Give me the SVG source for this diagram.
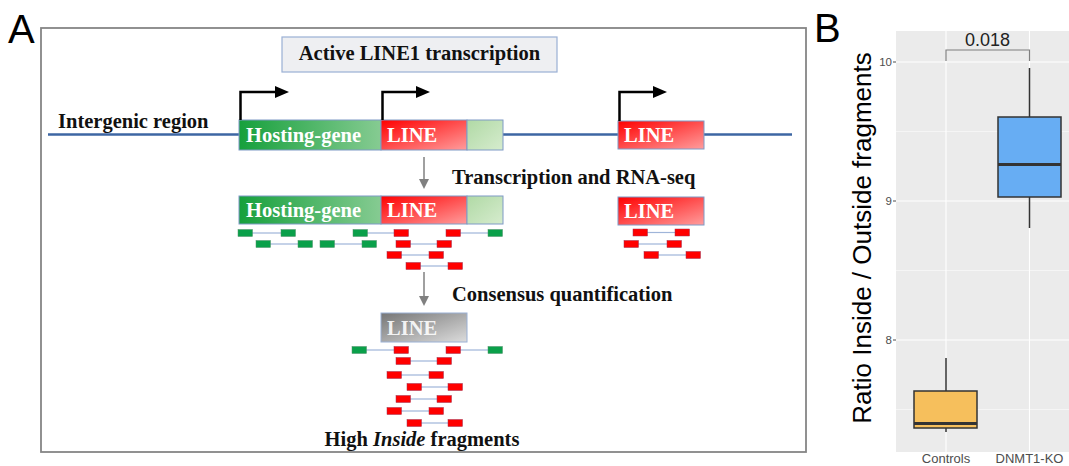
<svg xmlns="http://www.w3.org/2000/svg" width="1069" height="466" viewBox="0 0 1069 466">
  <style>
    .serif { font-family: "Liberation Serif", "Times New Roman", serif; font-weight: bold; }
    .title { font-size: 20.5px; fill: #111; }
    .boxlabel { font-size: 20.5px; fill: #ffffff; }
    .panel { font-family: "Liberation Sans", Arial, sans-serif; font-size: 40px; fill: #000; }
    .seg { stroke: #7f9ac6; stroke-width: 1; }
    .frag-g { fill: #0aa04a; stroke: #4f8f6a; stroke-width: 0.5; }
    .frag-r { fill: #ff0000; stroke: #a03050; stroke-width: 0.5; }
    .link { stroke: #9fb5d9; stroke-width: 1.2; }
    .tss { fill: none; stroke: #000; stroke-width: 2.5; }
    .down { stroke: #808080; stroke-width: 1.5; }
    .axis { font-family: "Liberation Sans", Arial, sans-serif; fill: #4d4d4d; }
    .grid-major { stroke: #ffffff; stroke-width: 1.1; }
    .grid-minor { stroke: #ffffff; stroke-width: 0.5; }
    .box { stroke: #333333; stroke-width: 1.5; }
    .whisk { stroke: #333333; stroke-width: 1.5; }
  </style>
  <defs>
    <linearGradient id="gHost" x1="0" y1="0" x2="1" y2="0">
      <stop offset="0" stop-color="#16a03c"/>
      <stop offset="1" stop-color="#86cb92"/>
    </linearGradient>
    <linearGradient id="gLine" x1="0" y1="0" x2="1" y2="1">
      <stop offset="0" stop-color="#ff0000"/>
      <stop offset="1" stop-color="#ff9d9d"/>
    </linearGradient>
    <linearGradient id="gTail" x1="0" y1="0" x2="1" y2="1">
      <stop offset="0" stop-color="#b0d9a5"/>
      <stop offset="1" stop-color="#d6ecce"/>
    </linearGradient>
    <linearGradient id="gGray" x1="0" y1="0" x2="1" y2="1">
      <stop offset="0" stop-color="#767676"/>
      <stop offset="1" stop-color="#dcdcdc"/>
    </linearGradient>
    <marker id="tipBlack" markerWidth="14" markerHeight="12" refX="1" refY="6" orient="auto" markerUnits="userSpaceOnUse">
      <path d="M0,0 L14,6 L0,12 Z" fill="#000"/>
    </marker>
    <marker id="tipGray" markerWidth="10" markerHeight="10" refX="1" refY="5" orient="auto" markerUnits="userSpaceOnUse">
      <path d="M0,0 L10,5 L0,10 Z" fill="#808080"/>
    </marker>
  </defs>

  <rect width="1069" height="466" fill="#ffffff"/>

  <!-- Panel A -->
  <text class="panel" x="8" y="43">A</text>
  <rect id="panelA-frame" x="41" y="28" width="765" height="424" fill="#ffffff" stroke="#858585" stroke-width="1.8"/>

  <g id="header">
    <rect x="282" y="37" width="275" height="35" fill="#eeeff2" stroke="#9ab0d4" stroke-width="1.2"/>
    <text class="serif title" x="419.5" y="60" text-anchor="middle">Active LINE1 transcription</text>
  </g>

  <g id="intergenic">
    <line x1="48" y1="134.5" x2="792" y2="134.5" stroke="#3d66a3" stroke-width="2.5"/>
    <text class="serif title" x="58" y="128">Intergenic region</text>
  </g>

  <!-- Genomic locus -->
  <g id="hosting-gene">
    <rect class="seg" x="239" y="120" width="142" height="30" fill="url(#gHost)"/>
    <text class="serif boxlabel" x="246" y="142">Hosting-gene</text>
  </g>
  <g id="line-intronic">
    <rect class="seg" x="381" y="120" width="86" height="30" fill="url(#gLine)"/>
    <text class="serif boxlabel" x="387" y="142">LINE</text>
  </g>
  <g id="hosting-gene-tail">
    <rect class="seg" x="467" y="120" width="36" height="30" fill="url(#gTail)"/>
  </g>
  <g id="line-intergenic">
    <rect class="seg" x="618" y="121" width="86" height="28" fill="url(#gLine)"/>
    <text class="serif boxlabel" x="624" y="142">LINE</text>
  </g>

  <g id="connectors">
    <!-- transcription start sites -->
    <path class="tss" d="M240.5,120 V92 H276" marker-end="url(#tipBlack)"/>
    <path class="tss" d="M382.5,120 V92 H417" marker-end="url(#tipBlack)"/>
    <path class="tss" d="M619.5,121 V92 H654" marker-end="url(#tipBlack)"/>
    <!-- workflow steps -->
    <line class="down" x1="424" y1="157" x2="424" y2="180" marker-end="url(#tipGray)"/>
    <line class="down" x1="424" y1="272" x2="424" y2="297" marker-end="url(#tipGray)"/>
  </g>

  <g id="step-rnaseq-label">
    <text class="serif title" x="452" y="184">Transcription and RNA-seq</text>
  </g>

  <!-- Transcripts and RNA-seq reads -->
  <g id="transcript-host">
    <rect class="seg" x="239" y="196" width="142" height="28" fill="url(#gHost)"/>
    <text class="serif boxlabel" x="246" y="217">Hosting-gene</text>
    <rect class="seg" x="381" y="196" width="86" height="28" fill="url(#gLine)"/>
    <text class="serif boxlabel" x="387" y="217">LINE</text>
    <rect class="seg" x="467" y="196" width="36" height="28" fill="url(#gTail)"/>
  </g>
  <g id="transcript-line">
    <rect class="seg" x="618" y="197" width="86" height="28" fill="url(#gLine)"/>
    <text class="serif boxlabel" x="624" y="218">LINE</text>
  </g>

  <g id="reads-host">
    <line class="link" x1="252" y1="233" x2="281" y2="233"/>
    <rect class="frag-g" x="238" y="229.5" width="14.5" height="7"/>
    <rect class="frag-g" x="281" y="229.5" width="14.5" height="7"/>
    <line class="link" x1="367" y1="233" x2="394" y2="233"/>
    <rect class="frag-g" x="353" y="229.5" width="14.5" height="7"/>
    <rect class="frag-r" x="394" y="229.5" width="14.5" height="7"/>
    <line class="link" x1="460" y1="233" x2="488" y2="233"/>
    <rect class="frag-r" x="446" y="229.5" width="14.5" height="7"/>
    <rect class="frag-g" x="488" y="229.5" width="14.5" height="7"/>

    <line class="link" x1="270" y1="244" x2="298" y2="244"/>
    <rect class="frag-g" x="256" y="240.5" width="14.5" height="7"/>
    <rect class="frag-g" x="298" y="240.5" width="14.5" height="7"/>
    <line class="link" x1="334" y1="244" x2="362" y2="244"/>
    <rect class="frag-g" x="320" y="240.5" width="14.5" height="7"/>
    <rect class="frag-g" x="362" y="240.5" width="14.5" height="7"/>
    <line class="link" x1="410" y1="244" x2="437" y2="244"/>
    <rect class="frag-r" x="396" y="240.5" width="14.5" height="7"/>
    <rect class="frag-r" x="437" y="240.5" width="14.5" height="7"/>

    <line class="link" x1="401" y1="255" x2="429" y2="255"/>
    <rect class="frag-r" x="387" y="251.5" width="14.5" height="7"/>
    <rect class="frag-r" x="429" y="251.5" width="14.5" height="7"/>

    <line class="link" x1="420" y1="266" x2="448" y2="266"/>
    <rect class="frag-r" x="406" y="262.5" width="14.5" height="7"/>
    <rect class="frag-r" x="448" y="262.5" width="14.5" height="7"/>
  </g>

  <g id="reads-line">
    <line class="link" x1="647" y1="232.5" x2="675" y2="232.5"/>
    <rect class="frag-r" x="633" y="229" width="14.5" height="7"/>
    <rect class="frag-r" x="675" y="229" width="14.5" height="7"/>
    <line class="link" x1="638" y1="244" x2="667" y2="244"/>
    <rect class="frag-r" x="624" y="240.5" width="14.5" height="7"/>
    <rect class="frag-r" x="667" y="240.5" width="14.5" height="7"/>
    <line class="link" x1="658" y1="255" x2="686" y2="255"/>
    <rect class="frag-r" x="644" y="251.5" width="14.5" height="7"/>
    <rect class="frag-r" x="686" y="251.5" width="14.5" height="7"/>
  </g>

  <g id="step-consensus-label">
    <text class="serif title" x="452" y="301">Consensus quantification</text>
  </g>

  <!-- Consensus element with mapped reads -->
  <g id="consensus-line">
    <rect x="381" y="313" width="86" height="29" fill="url(#gGray)" stroke="#9ab0d4" stroke-width="1"/>
    <text class="serif boxlabel" x="387" y="335" fill-opacity="0.9">LINE</text>
  </g>

  <g id="reads-consensus">
    <line class="link" x1="366" y1="350" x2="394" y2="350"/>
    <rect class="frag-g" x="352" y="346.5" width="14.5" height="7"/>
    <rect class="frag-r" x="394" y="346.5" width="14.5" height="7"/>
    <line class="link" x1="460" y1="350" x2="488" y2="350"/>
    <rect class="frag-r" x="446" y="346.5" width="14.5" height="7"/>
    <rect class="frag-g" x="488" y="346.5" width="14.5" height="7"/>

    <line class="link" x1="410" y1="361" x2="437" y2="361"/>
    <rect class="frag-r" x="396" y="357.5" width="14.5" height="7"/>
    <rect class="frag-r" x="437" y="357.5" width="14.5" height="7"/>

    <line class="link" x1="401" y1="375" x2="429" y2="375"/>
    <rect class="frag-r" x="387" y="371.5" width="14.5" height="7"/>
    <rect class="frag-r" x="429" y="371.5" width="14.5" height="7"/>

    <line class="link" x1="421" y1="387" x2="448" y2="387"/>
    <rect class="frag-r" x="407" y="383.5" width="14.5" height="7"/>
    <rect class="frag-r" x="448" y="383.5" width="14.5" height="7"/>

    <line class="link" x1="410" y1="399" x2="437" y2="399"/>
    <rect class="frag-r" x="396" y="395.5" width="14.5" height="7"/>
    <rect class="frag-r" x="437" y="395.5" width="14.5" height="7"/>

    <line class="link" x1="401" y1="411" x2="429" y2="411"/>
    <rect class="frag-r" x="387" y="407.5" width="14.5" height="7"/>
    <rect class="frag-r" x="429" y="407.5" width="14.5" height="7"/>

    <line class="link" x1="421" y1="423" x2="448" y2="423"/>
    <rect class="frag-r" x="407" y="419.5" width="14.5" height="7"/>
    <rect class="frag-r" x="448" y="419.5" width="14.5" height="7"/>
  </g>

  <g id="result-label">
    <text class="serif title" x="422" y="446" text-anchor="middle">High <tspan font-style="italic">Inside</tspan> fragments</text>
  </g>

  <!-- Panel B: box plot -->
  <text class="panel" x="814" y="42">B</text>
  <g id="plot-panel">
    <rect x="896" y="31" width="173" height="421" fill="#ebebeb"/>
    <line class="grid-minor" x1="896" y1="131.5" x2="1069" y2="131.5"/>
    <line class="grid-minor" x1="896" y1="270.5" x2="1069" y2="270.5"/>
    <line class="grid-minor" x1="896" y1="409.5" x2="1069" y2="409.5"/>
    <line class="grid-major" x1="896" y1="62" x2="1069" y2="62"/>
    <line class="grid-major" x1="896" y1="201" x2="1069" y2="201"/>
    <line class="grid-major" x1="896" y1="340" x2="1069" y2="340"/>
    <line class="grid-major" x1="946" y1="31" x2="946" y2="452"/>
    <line class="grid-major" x1="1029.5" y1="31" x2="1029.5" y2="452"/>
  </g>

  <g id="y-axis">
    <line x1="893" y1="62" x2="896" y2="62" stroke="#4d4d4d" stroke-width="1"/>
    <line x1="893" y1="201" x2="896" y2="201" stroke="#4d4d4d" stroke-width="1"/>
    <line x1="893" y1="340" x2="896" y2="340" stroke="#4d4d4d" stroke-width="1"/>
    <text class="axis" x="892" y="66" font-size="11.5" text-anchor="end">10</text>
    <text class="axis" x="892" y="205" font-size="11.5" text-anchor="end">9</text>
    <text class="axis" x="892" y="344" font-size="11.5" text-anchor="end">8</text>
    <text x="871" y="238" transform="rotate(-90 871 238)" text-anchor="middle" font-family="Liberation Sans, Arial, sans-serif" font-size="26" fill="#000">Ratio Inside / Outside fragments</text>
  </g>

  <g id="x-axis">
    <text class="axis" x="946" y="463" font-size="13" text-anchor="middle">Controls</text>
    <text class="axis" x="1029.5" y="463" font-size="13" text-anchor="middle">DNMT1-KO</text>
  </g>

  <g id="box-controls">
    <line class="whisk" x1="946" y1="358" x2="946" y2="391"/>
    <line class="whisk" x1="946" y1="428" x2="946" y2="432"/>
    <rect class="box" x="914" y="391" width="63" height="37" fill="#f6bf5c"/>
    <line x1="914" y1="423.5" x2="977" y2="423.5" stroke="#333333" stroke-width="3"/>
  </g>

  <g id="box-dnmt1ko">
    <line class="whisk" x1="1029.5" y1="68" x2="1029.5" y2="117"/>
    <line class="whisk" x1="1029.5" y1="197" x2="1029.5" y2="228"/>
    <rect class="box" x="998" y="117" width="63" height="80" fill="#67adf3"/>
    <line x1="998" y1="164.5" x2="1061" y2="164.5" stroke="#333333" stroke-width="3"/>
  </g>

  <g id="significance">
    <path d="M946,61 V50 H1029.5 V61" fill="none" stroke="#7f7f7f" stroke-width="1.2"/>
    <text x="987.5" y="46" text-anchor="middle" font-family="Liberation Sans, Arial, sans-serif" font-size="18" fill="#222">0.018</text>
  </g>
</svg>
